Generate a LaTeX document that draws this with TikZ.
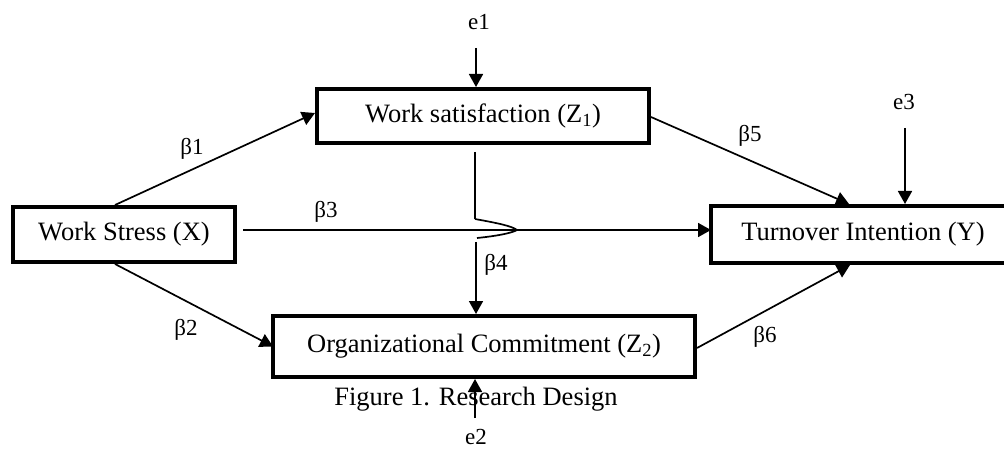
\documentclass[tikz,border=0pt]{standalone}
\usepackage{fontspec}
\setmainfont{Liberation Serif}
\usetikzlibrary{arrows.meta}
\begin{document}
\begin{tikzpicture}[x=1pt,y=-1pt,
  box/.style={draw,line width=4.4pt,inner sep=0pt,outer sep=0pt,align=center,font=\fontsize{26.5}{30}\selectfont},
  lbl/.style={inner sep=0pt,anchor=base,font=\fontsize{23}{26}\selectfont},
  captext/.style={inner sep=0pt,anchor=base,font=\fontsize{26.5}{30}\selectfont},
  arr/.style={line width=1.7pt,-{Triangle[length=13pt,width=14pt]}},
  thinline/.style={line width=1.7pt},
  thickline/.style={line width=2.8pt}]
\useasboundingbox (0,0) rectangle (1004,449);
% boxes
\node[box,minimum width=222pt,minimum height=55pt] (X) at (124,234.5) {Work Stress (X)};
\node[box,minimum width=332pt,minimum height=54pt] (Z1) at (483,116) {Work satisfaction (Z\textsubscript{1})};
\node[box,minimum width=422pt,minimum height=61pt] (Z2) at (484,346.5) {Organizational Commitment (Z\textsubscript{2})};
\node[box,minimum width=304pt,minimum height=57pt] (Y) at (863,234.5) {Turnover Intention (Y)};
% labels
\node[lbl] (e1) at (479,30) {e1};
\node[lbl] (e2) at (476,444) {e2};
\node[lbl] (e3) at (904,110) {e3};
\node[lbl] (b1) at (192,155) {β1};
\node[lbl] (b2) at (186,335) {β2};
\node[lbl] (b3) at (326,218) {β3};
\node[lbl] (b4) at (496,270) {β4};
\node[lbl] (b5) at (750,142) {β5};
\node[lbl] (b6) at (765,342) {β6};
\node[captext] (caption) at (476,405) {Figure 1. Research Design};
% coordinates
\coordinate (xs1) at (115,205);
\coordinate (z1in) at (315,113);
\coordinate (xs2) at (115,264);
\coordinate (xs3) at (243,230);
\coordinate (yin3) at (711,230);
\coordinate (z1out) at (651,117);
\coordinate (yin5) at (849,204);
\coordinate (z2out) at (697,348);
\coordinate (yin6) at (850,265);
\coordinate (e1s) at (476,48);
\coordinate (e1t) at (476,87);
\coordinate (e2s) at (475,418);
\coordinate (e2t) at (475,379);
\coordinate (e3s) at (905,128);
\coordinate (e3t) at (905,204);
\coordinate (v1) at (475,152);
\coordinate (v2) at (475,219);
\coordinate (hop) at (517,230);
\coordinate (v3) at (477,238);
\coordinate (v4) at (476,242);
\coordinate (z2in4) at (476,314);
% connectors
\draw[arr] (xs1) -- (z1in);
\draw[arr] (xs2) -- (Z2.west);
\draw[arr] (xs3) -- (yin3);
\draw[arr] (z1out) -- (yin5);
\draw[arr] (z2out) -- (yin6);
\draw[arr] (e1s) -- (e1t);
\draw[arr] (e2s) -- (e2t);
\draw[arr] (e3s) -- (e3t);
\draw[thickline] (v1) -- (v2);
\draw[thinline] (v2) .. controls (497,223) and (512,226) .. (hop) .. controls (512,233) and (497,236) .. (v3);
\draw[arr] (v4) -- (z2in4);
\end{tikzpicture}
\end{document}
